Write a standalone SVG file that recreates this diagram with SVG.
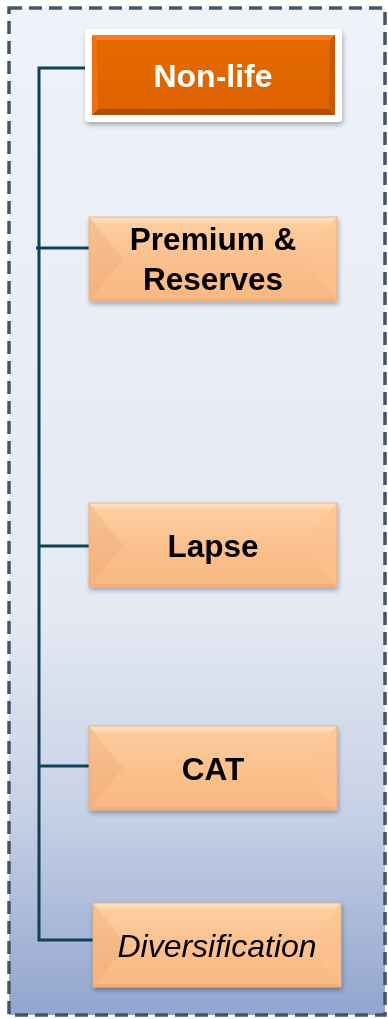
<svg xmlns="http://www.w3.org/2000/svg" width="388" height="1019" viewBox="0 0 388 1019">
  <defs>
    <linearGradient id="bg" x1="0" y1="0" x2="0" y2="1">
      <stop offset="0" stop-color="#eff2f8"/>
      <stop offset="0.6" stop-color="#e4e9f3"/>
      <stop offset="0.8" stop-color="#c7d1e6"/>
      <stop offset="1" stop-color="#91a5ce"/>
    </linearGradient>
    <linearGradient id="peach" x1="0" y1="0" x2="0" y2="1">
      <stop offset="0" stop-color="#fdd0a2"/>
      <stop offset="0.5" stop-color="#fbc08e"/>
      <stop offset="1" stop-color="#f9b883"/>
    </linearGradient>
    <linearGradient id="peachTop" x1="0" y1="0" x2="0" y2="1">
      <stop offset="0" stop-color="#fee3c4"/>
      <stop offset="1" stop-color="#fdd5aa"/>
    </linearGradient>
    <linearGradient id="orange" x1="0" y1="0" x2="0" y2="1">
      <stop offset="0" stop-color="#e56a05"/>
      <stop offset="1" stop-color="#dd6200"/>
    </linearGradient>
    <filter id="shadow" x="-10%" y="-20%" width="125%" height="150%">
      <feGaussianBlur in="SourceAlpha" stdDeviation="2.5"/>
      <feOffset dx="1" dy="3" result="b"/>
      <feComponentTransfer><feFuncA type="linear" slope="0.3"/></feComponentTransfer>
      <feMerge><feMergeNode/><feMergeNode in="SourceGraphic"/></feMerge>
    </filter>
    <!-- bevelled peach box, 248 x 84 -->
    <g id="peachBox">
      <rect x="0" y="0" width="248" height="84" fill="url(#peach)"/>
      <polygon points="0,0 248,0 242,6 6,6" fill="url(#peachTop)"/>
      <polygon points="0,0 34,42 0,84" fill="#e9a473" opacity="0.3"/>
      <polygon points="248,0 214,42 248,84" fill="#fbc38f" opacity="0.5"/>
      <polygon points="0,84 248,84 244,81 4,81" fill="#eea872" opacity="0.6"/>
      <rect x="0" y="0" width="248" height="84" fill="none" stroke="#e6ab7a" stroke-width="0.8"/>
    </g>
  </defs>
  <style>
    .frame { fill: url(#bg); stroke: #44546a; stroke-width: 3.5; stroke-dasharray: 13 7; }
    .conn { fill: none; stroke: #0f4157; stroke-width: 3; }
    .lbl { font-family: "Liberation Sans", Arial, sans-serif; font-weight: bold; font-size: 31.5px; fill: #000; text-anchor: middle; }
    .white { fill: #fff; font-size: 32px; }
    .ital { font-weight: normal; font-style: italic; font-size: 32px; }
  </style>

  <!-- dashed outer frame -->
  <rect class="frame" x="9" y="8" width="376" height="1007"/>

  <!-- connectors -->
  <g id="connectors">
    <polyline class="conn" points="86,68 39,68 39,940 94,940"/>
    <line class="conn" x1="36" y1="248" x2="90" y2="248"/>
    <line class="conn" x1="39" y1="546" x2="90" y2="546"/>
    <line class="conn" x1="39" y1="766" x2="90" y2="766"/>
  </g>

  <!-- top node -->
  <g id="node-nonlife" filter="url(#shadow)">
    <rect x="85" y="29" width="257" height="93" rx="4" fill="#ffffff"/>
    <rect x="92" y="35" width="243" height="80" fill="url(#orange)"/>
    <polygon points="92,35 335,35 330,40 97,40" fill="#ff7a1a"/>
    <polygon points="92,115 335,115 329,109 98,109" fill="#a84a00" opacity="0.85"/>
    <polygon points="92,35 97,40 98,109 92,115" fill="#ef7010"/>
    <polygon points="335,35 330,40 329,109 335,115" fill="#c95800"/>
    <text class="lbl white" x="213" y="87">Non-life</text>
  </g>

  <g id="node-premium" filter="url(#shadow)">
    <use href="#peachBox" x="89" y="217"/>
    <text class="lbl" x="213" y="250">Premium &amp;</text>
    <text class="lbl" x="213" y="290">Reserves</text>
  </g>

  <g id="node-lapse" filter="url(#shadow)">
    <use href="#peachBox" x="89" y="503"/>
    <text class="lbl" x="213" y="557">Lapse</text>
  </g>

  <g id="node-cat" filter="url(#shadow)">
    <use href="#peachBox" x="89" y="726"/>
    <text class="lbl" x="213" y="780">CAT</text>
  </g>

  <g id="node-diversification" filter="url(#shadow)">
    <use href="#peachBox" x="93" y="903"/>
    <text class="lbl ital" x="217" y="957">Diversification</text>
  </g>
</svg>
